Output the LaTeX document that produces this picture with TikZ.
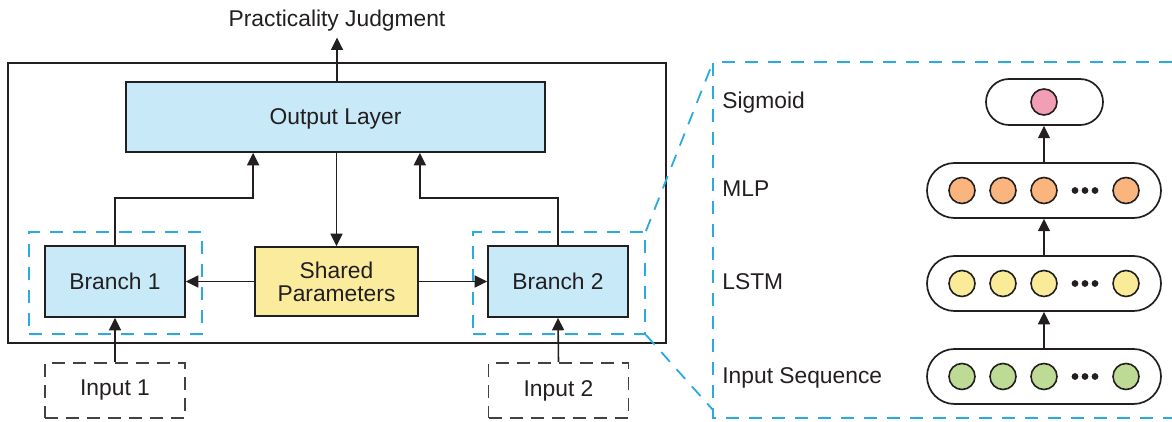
\documentclass[tikz,border=0pt]{standalone}
\usepackage{fontspec}
\setmainfont{Liberation Sans}
\usetikzlibrary{arrows.meta,fit,calc}

\definecolor{ink}{HTML}{231F20}
\definecolor{boxblue}{HTML}{C7E9F8}
\definecolor{boxyellow}{HTML}{FAEC9C}
\definecolor{zoomblue}{HTML}{29ABE2}
\definecolor{mlporange}{HTML}{F9B57D}
\definecolor{lstmyellow}{HTML}{FAEB98}
\definecolor{seqgreen}{HTML}{BEDB96}
\definecolor{sigpink}{HTML}{F29FB5}

\tikzset{
  box/.style={draw=ink, line width=0.9pt, fill=boxblue, inner sep=0pt,
    text depth=0pt, text=ink, align=center},
  arr/.style={draw=ink, line width=0.8pt, -{Triangle[length=6.2pt,width=6pt]}},
  zoomdash/.style={draw=zoomblue, line width=0.9pt, dash pattern=on 6.5pt off 5pt},
  inputbox/.style={draw=ink!85, line width=0.85pt, dash pattern=on 6.5pt off 4pt,
    minimum width=70pt, minimum height=27.5pt, inner sep=0pt, text=ink},
  capsule/.style={draw=ink, line width=0.85pt, minimum width=117pt,
    minimum height=27.5pt, rounded corners=13.75pt, inner sep=0pt},
  neuron/.style={circle, draw=ink, line width=0.8pt, minimum size=13pt, inner sep=0pt},
  dotmark/.style={circle, fill=ink, minimum size=3.4pt, inner sep=0pt},
  lbl/.style={anchor=base west, inner sep=0pt, text=ink},
}

\begin{document}
\begin{tikzpicture}[x=0.5pt, y=-0.5pt, font=\fontsize{11.4}{11.6}\selectfont]
\useasboundingbox (0,0) rectangle (1172,422);

% ---------- left: two-branch network ----------
\node[draw=ink, line width=0.95pt, minimum width=329pt, minimum height=140pt, inner sep=0pt]
  (frame) at (337,203) {};

% dashed outlines marking each branch
\node[zoomdash, minimum width=86.5pt, minimum height=51pt, inner sep=0pt] (b1d) at (115.5,283) {};
\node[zoomdash, minimum width=86pt, minimum height=51pt, inner sep=0pt] (b2d) at (559,283) {};

\node[box, minimum width=209.5pt, minimum height=35pt] (outl) at (335.5,117) {Output Layer};
\node[box, minimum width=70pt, minimum height=35.5pt] (b1) at (115,281.5) {Branch 1};
\node[box, fill=boxyellow, minimum width=81.5pt, minimum height=34.5pt] (sp) at (336.5,281.5) {Shared\\Parameters};
\node[box, minimum width=70pt, minimum height=35.5pt] (b2) at (558,281.5) {Branch 2};

\node[inputbox] (in1) at (115,390.5) {Input 1};
\node[inputbox] (in2) at (558.5,390.5) {Input 2};

\node[anchor=base, inner sep=2.7pt, text=ink] (pj) at (337,27) {Practicality Judgment};

% connectors
\draw[arr] (outl.north -| pj.south) -- (pj.south);
\draw[arr] (outl.south -| sp.north) -- (sp.north);
\draw[arr] (sp.west) -- (b1.east);
\draw[arr] (sp.east) -- (b2.west);
\draw[arr] (in1.north) -- (b1.south);
\draw[arr] (in2.north) -- (b2.south);
\draw[arr] (b1.north) |- ([xshift=64pt, yshift=-22.5pt]outl.south west)
  -- ([xshift=64pt]outl.south west);
\draw[arr] (b2.north) |- ([xshift=-63pt, yshift=-22.5pt]outl.south east)
  -- ([xshift=-63pt]outl.south east);

% ---------- right: detail of one branch ----------
\coordinate (zTL) at (713,62);
\coordinate (zBL) at (713,418);
\coordinate (zTR) at (1172,62);
\coordinate (zBR) at (1172,418);
\coordinate (zLow) at (713,410);
\draw[zoomdash] (zTR) -- (zTL) -- (zBL) -- (zBR);
\draw[zoomdash] (b2d.north east) -- (zTL);
\draw[zoomdash] (b2d.south east) -- (zLow);

\node[lbl] (lsig) at (722,109) {Sigmoid};
\node[lbl] (lmlp) at (722,197) {MLP};
\node[lbl] (llstm) at (722,290) {LSTM};
\node[lbl] (lseq) at (722,383) {Input Sequence};

\node[capsule, minimum width=58.5pt, minimum height=23pt, rounded corners=11.5pt] (sig) at (1044.5,102) {};
\node[capsule] (mlp) at (1044,190.5) {};
\node[capsule] (lstm) at (1044,283.5) {};
\node[capsule] (seq) at (1044,376.5) {};

\node[neuron, fill=sigpink] (s1) at (1044,102) {};

\foreach \row/\yy/\col in {m/190.5/mlporange, l/283.5/lstmyellow, q/376.5/seqgreen}{
  \node[neuron, fill=\col] (\row1) at (962,\yy) {};
  \node[neuron, fill=\col] (\row2) at (1003,\yy) {};
  \node[neuron, fill=\col] (\row3) at (1044,\yy) {};
  \node[neuron, fill=\col] (\row4) at (1126,\yy) {};
  \node[dotmark] (\row d1) at (1075,\yy) {};
  \node[dotmark] (\row d2) at (1085,\yy) {};
  \node[dotmark] (\row d3) at (1095,\yy) {};
}

\draw[arr] (seq.north -| s1.south) -- (lstm.south -| s1.south);
\draw[arr] (lstm.north -| s1.south) -- (mlp.south -| s1.south);
\draw[arr] (mlp.north -| s1.south) -- (sig.south -| s1.south);
\end{tikzpicture}
\end{document}
